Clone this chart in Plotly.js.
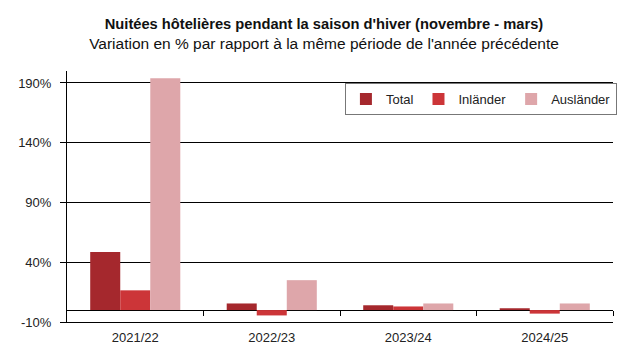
<!DOCTYPE html>
<html>
<head>
<meta charset="utf-8">
<script src="https://cdn.plot.ly/plotly-3.0.1.min.js"></script>
<style>html,body{margin:0;padding:0;background:#fff;}#chart{width:633px;height:359px;}</style>
</head>
<body>
<div id="chart"></div>
<script>
var categories = ["2021/22", "2022/23", "2023/24", "2024/25"];
var total = [48.5, 5.5, 4.0, 1.5];
var inlaender = [16.5, -4.5, 3.0, -3.0];
var auslaender = [194, 25, 5.5, 5.5];
var yTickVals = [-10, 40, 90, 140, 190];
var yTickText = ["-10%", "40%", "90%", "140%", "190%"];
var boundaryTicks = [0.5, 1.5, 2.5, 3.5];

var titleFont = "'Liberation Sans', Arial, sans-serif";
var tickFont = "'Liberation Sans', Arial, sans-serif";

var traces = [
  {type: "bar", name: "Total", x: categories, y: total, marker: {color: "#a5282d"}},
  {type: "bar", name: "Inländer", x: categories, y: inlaender, marker: {color: "#cc3538"}},
  {type: "bar", name: "Ausländer", x: categories, y: auslaender, marker: {color: "#dea6aa"}},
  {type: "scatter", x: [], y: [], xaxis: "x2", showlegend: false, hoverinfo: "skip"}
];

var yMin = -10, yMax = 200;
var layout = {
  width: 633, height: 359,
  margin: {l: 67, r: 20, t: 71, b: 37, autoexpand: false},
  paper_bgcolor: "#fff", plot_bgcolor: "#fff",
  barmode: "group", bargap: 0.34, bargroupgap: 0,
  title: {
    text: "<b><span style='font-size:14.7px'>Nuitées hôtelières pendant la saison d'hiver (novembre - mars)</span></b><br>Variation en % par rapport à la même période de l'année précédente",
    font: {family: titleFont, size: 15.5, color: "#111"},
    x: 324 / 633, xanchor: "center", yref: "container", y: 1 - 29 / 359, yanchor: "top"
  },
  xaxis: {
    type: "category", showgrid: false, zeroline: false,
    showline: true, linecolor: "#000", linewidth: 1,
    ticks: "", ticklabelstandoff: 3, tickfont: {family: tickFont, size: 13, color: "#222"},
    fixedrange: true
  },
  xaxis2: {
    overlaying: "x", anchor: "free", position: (0 - yMin) / (yMax - yMin),
    range: [-0.5, 3.5], tickvals: boundaryTicks, ticks: "outside", ticklen: 5,
    tickcolor: "#000", showticklabels: false, showgrid: false, zeroline: false, showline: false
  },
  yaxis: {
    range: [yMin, yMax], tickvals: yTickVals, ticktext: yTickText,
    showgrid: true, gridcolor: "#000", gridwidth: 1,
    zeroline: true, zerolinecolor: "#000", zerolinewidth: 1,
    showline: true, linecolor: "#000", linewidth: 1,
    ticks: "outside", ticklen: 6, tickcolor: "#000", ticklabelstandoff: 6,
    tickfont: {family: tickFont, size: 13, color: "#222"},
    fixedrange: true
  },
  legend: {
    orientation: "h", x: 0.509, xanchor: "left", y: 0.952, yanchor: "top",
    bordercolor: "#777", borderwidth: 1, bgcolor: "#fff",
    font: {family: tickFont, size: 13, color: "#222"},
    itemwidth: 30, tracegroupgap: 0
  },
  showlegend: true
};

Plotly.newPlot("chart", traces, layout, {displayModeBar: false, staticPlot: true});
</script>
</body>
</html>
